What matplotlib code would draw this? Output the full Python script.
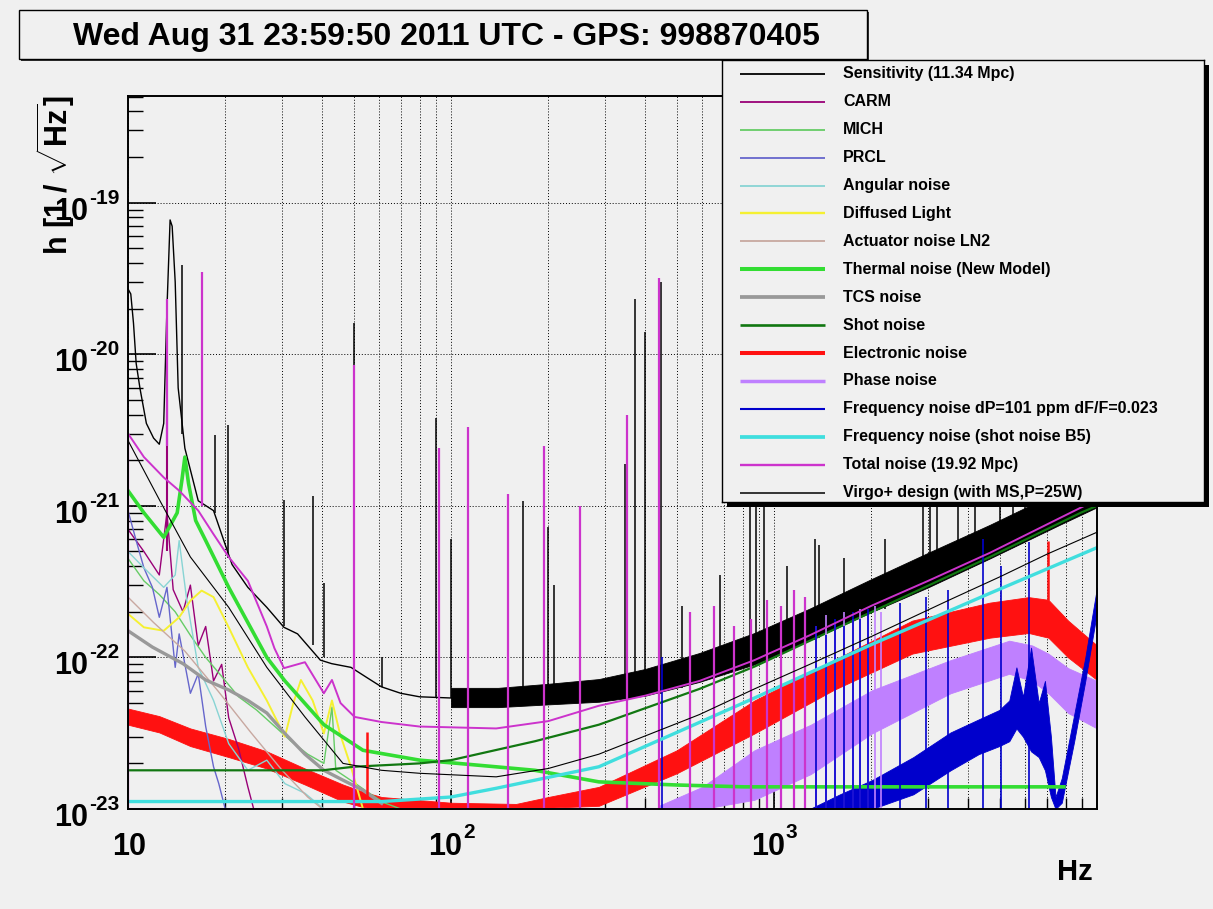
import numpy as np
import matplotlib
matplotlib.use("Agg")
import matplotlib.pyplot as plt
from matplotlib.patches import Rectangle
from matplotlib.ticker import FixedLocator, LogLocator, NullFormatter
from matplotlib.transforms import blended_transform_factory, offset_copy

plt.rcParams['font.family'] = ['Liberation Sans', 'DejaVu Sans']
plt.rcParams['font.weight'] = 'bold'
plt.rcParams['mathtext.fontset'] = 'custom'
plt.rcParams['mathtext.rm'] = 'Liberation Sans:bold'
plt.rcParams['mathtext.bf'] = 'Liberation Sans:bold'
plt.rcParams['mathtext.it'] = 'Liberation Sans:bold'

# ---- values: f in Hz, h in 1/sqrt(Hz) ----
# Sensitivity (black): low-frequency line, high-frequency noisy band, lines
sens_f = [10.0, 10.2, 10.4, 10.6, 10.9, 11.4, 12.0, 12.5, 12.9, 13.2, 13.5, 13.7, 14.0, 14.3, 15.0,
          16.5, 18.4, 21.0, 23.5, 26.9, 30.4, 33.5, 39.4, 42.7, 49.0, 54.7, 60.9, 69.9, 79.9, 100.0]
sens_h = [2.7e-20, 2.5e-20, 1.6e-20, 8.7e-21, 5.9e-21, 3.5e-21, 2.8e-21, 2.55e-21, 3.5e-21, 2.0e-20,
          7.7e-20, 7.0e-20, 3.0e-20, 6.0e-21, 2.4e-21, 1.08e-21, 9.3e-22, 4.1e-22, 2.9e-22, 2.14e-22,
          1.58e-22, 1.43e-22, 9.6e-23, 9.1e-23, 8.6e-23, 7.4e-23, 6.4e-23, 5.8e-23, 5.5e-23, 5.4e-23]
sens_band_f = [100.0, 140.0, 200.0, 287.0, 400.0, 588.0, 870.0, 1290.0, 2010.0, 3000.0, 4660.0, 7660.0, 10000.0]
sens_band_lo = [4.7e-23, 4.7e-23, 4.9e-23, 5.1e-23, 5.6e-23, 6.9e-23, 9.0e-23, 1.3e-22, 2.0e-22, 2.9e-22,
                4.5e-22, 7.5e-22, 9.8e-22]
sens_band_hi = [6.3e-23, 6.3e-23, 6.7e-23, 7.2e-23, 8.4e-23, 1.07e-22, 1.45e-22, 2.1e-22, 3.3e-22, 4.9e-22,
                7.5e-22, 1.25e-21, 1.6e-21]
sens_spk_f = [14.7, 16.9, 18.6, 20.4, 30.4, 37.3, 40.4, 50.0, 61.0, 90.0, 100.0, 167.0, 200.0, 208.0,
              345.0, 371.0, 399.0, 448.0, 520.0, 680.0, 840.0, 880.0, 930.0, 1100.0, 1340.0, 1380.0,
              1650.0, 2200.0, 2900.0, 3050.0, 3200.0, 3700.0, 4200.0, 5000.0, 5500.0, 6000.0, 7000.0,
              8000.0, 9000.0]
sens_spk_lo = [3.0e-21, 1.1e-21, 9.0e-22, 4.5e-22, 1.6e-22, 1.2e-22, 1.0e-22, 8.6e-23, 6.4e-23, 5.5e-23,
               5.4e-23, 5.0e-23, 5.0e-23, 5.0e-23, 5.3e-23, 5.4e-23, 5.5e-23, 5.7e-23, 6.3e-23, 7.5e-23,
               8.8e-23, 9.0e-23, 9.5e-23, 1.1e-22, 1.3e-22, 1.35e-22, 1.6e-22, 2.1e-22, 2.8e-22, 2.9e-22,
               3.1e-22, 3.6e-22, 4.1e-22, 4.8e-22, 5.3e-22, 5.8e-22, 6.8e-22, 7.8e-22, 8.8e-22]
sens_spk_hi = [3.9e-20, 1.7e-20, 2.95e-21, 3.4e-21, 1.1e-21, 1.17e-21, 3.1e-22, 1.6e-20, 1.0e-22, 3.8e-21,
               6.0e-22, 1.07e-21, 7.2e-22, 3.0e-22, 1.9e-21, 2.3e-20, 1.4e-20, 3.0e-20, 2.2e-22, 3.5e-22,
               1.4e-21, 1.2e-21, 1.5e-21, 4.0e-22, 6.0e-22, 5.5e-22, 4.5e-22, 6.0e-22, 1.5e-21, 1.5e-21,
               1.5e-21, 1.2e-21, 1.5e-21, 2.0e-21, 2.0e-21, 2.0e-21, 2.0e-21, 2.0e-21, 2.0e-21]

carm_f = [10.0, 11.2, 12.5, 13.2, 13.8, 14.8, 15.6, 16.5, 17.4, 18.4, 19.5, 20.5, 22.0, 23.5, 24.5]
carm_h = [7.0e-22, 5.0e-22, 3.5e-22, 9.0e-22, 2.8e-22, 2.0e-22, 3.0e-22, 1.2e-22, 1.6e-22, 7.0e-23,
          9.0e-23, 4.0e-23, 2.5e-23, 1.4e-23, 1.0e-23]
carm_spk_f = [13.2]
carm_spk_lo = [5.0e-22]
carm_spk_hi = [5.0e-21]

mich_f = [10.0, 11.2, 12.5, 14.0, 15.6, 17.4, 19.5, 22.0, 25.0, 28.5, 32.0, 36.0, 40.4, 42.8, 44.0,
          50.0, 55.0, 62.0, 70.0]
mich_h = [4.5e-22, 3.2e-22, 2.6e-22, 2.0e-22, 1.4e-22, 1.0e-22, 7.5e-23, 5.5e-23, 4.5e-23, 3.5e-23,
          2.8e-23, 2.3e-23, 2.0e-23, 4.7e-23, 1.8e-23, 1.5e-23, 1.3e-23, 1.1e-23, 1.0e-23]

prcl_f = [10.0, 10.6, 11.2, 11.9, 12.5, 13.2, 14.0, 14.4, 15.6, 16.5, 17.4, 18.4, 19.1, 20.0]
prcl_h = [9.3e-22, 5.9e-22, 3.9e-22, 2.9e-22, 1.84e-22, 2.9e-22, 8.6e-23, 1.43e-22, 5.8e-23, 7.8e-23,
          3.5e-23, 1.9e-23, 1.47e-23, 1.0e-23]

ang_f = [10.0, 11.2, 12.9, 14.0, 14.4, 15.2, 16.5, 18.4, 20.5, 23.5, 26.9, 30.6, 35.3, 40.4]
ang_h = [5.0e-22, 3.9e-22, 2.9e-22, 3.5e-22, 5.9e-22, 2.4e-22, 8.6e-23, 5.2e-23, 2.7e-23, 1.8e-23,
         2.1e-23, 1.47e-23, 1.27e-23, 1.0e-23]

diff_f = [10.0, 11.2, 12.9, 14.4, 15.6, 16.9, 18.4, 20.5, 23.5, 26.9, 30.6, 32.5, 34.3, 37.3, 40.4,
          42.8, 45.3, 49.0, 53.4]
diff_h = [1.94e-22, 1.58e-22, 1.5e-22, 1.84e-22, 2.37e-22, 2.76e-22, 2.5e-22, 1.58e-22, 8.6e-23, 5.2e-23,
          3.0e-23, 5.0e-23, 7.1e-23, 5.2e-23, 3.15e-23, 5.2e-23, 3.15e-23, 1.9e-23, 1.0e-23]

act_f = [10.0, 12.0, 15.0, 19.0, 24.0, 30.0, 36.0, 40.0]
act_h = [2.5e-22, 1.7e-22, 1.1e-22, 6.0e-23, 3.2e-23, 1.8e-23, 1.2e-23, 1.0e-23]

therm_f = [10.0, 11.2, 12.9, 14.2, 14.7, 15.0, 15.4, 16.2, 17.4, 20.5, 26.9, 30.6, 40.4, 53.4, 80.0,
           105.0, 182.0, 287.0, 500.0, 810.0, 7900.0]
therm_h = [1.26e-21, 9.0e-22, 6.2e-22, 9.0e-22, 1.5e-21, 2.1e-21, 1.4e-21, 8.0e-22, 5.9e-22, 2.9e-22,
           1.0e-22, 7.0e-23, 3.6e-23, 2.44e-23, 2.1e-23, 2.0e-23, 1.8e-23, 1.51e-23, 1.44e-23, 1.4e-23,
           1.4e-23]

tcs_f = [10.0, 11.9, 14.8, 17.4, 20.5, 23.5, 26.9, 30.6, 35.3, 40.4, 46.3, 53.4, 61.0]
tcs_h = [1.5e-22, 1.17e-22, 9.1e-23, 7.1e-23, 6.1e-23, 5.2e-23, 4.3e-23, 3.15e-23, 2.3e-23, 1.8e-23,
         1.55e-23, 1.33e-23, 1.09e-23]

shot_f = [10.0, 40.0, 50.0, 80.0, 100.0, 182.0, 287.0, 588.0, 870.0, 2010.0, 4660.0, 8900.0, 10000.0]
shot_h = [1.8e-23, 1.8e-23, 1.9e-23, 2.0e-23, 2.1e-23, 2.8e-23, 3.6e-23, 6.2e-23, 8.7e-23, 2.0e-22,
          4.6e-22, 9.0e-22, 1.0e-21]

elec_f = [10.0, 12.5, 15.6, 20.5, 26.9, 35.3, 46.3, 53.4, 61.0, 100.0, 159.0, 200.0, 287.0, 500.0,
          870.0, 1530.0, 2680.0, 4660.0, 6140.0, 7070.0, 8140.0, 10000.0]
elec_lo = [3.6e-23, 3.2e-23, 2.6e-23, 2.2e-23, 1.85e-23, 1.45e-23, 1.12e-23, 1.03e-23, 1.0e-23, 1.0e-23,
           1.0e-23, 1.02e-23, 1.05e-23, 1.72e-23, 3.15e-23, 6.1e-23, 1.06e-22, 1.35e-22, 1.45e-22,
           1.35e-22, 1.0e-22, 7.1e-23]
elec_hi = [4.6e-23, 4.1e-23, 3.4e-23, 2.9e-23, 2.4e-23, 1.85e-23, 1.45e-23, 1.3e-23, 1.2e-23, 1.1e-23,
           1.08e-23, 1.2e-23, 1.4e-23, 2.44e-23, 5.2e-23, 9.6e-23, 1.75e-22, 2.3e-22, 2.5e-22, 2.4e-22,
           1.75e-22, 1.2e-22]
elec_spk_f = [55.0, 7070.0]
elec_spk_lo = [1.2e-23, 2.4e-22]
elec_spk_hi = [3.2e-23, 5.9e-22]

phase_f = [440.0, 600.0, 870.0, 1300.0, 2010.0, 3520.0, 5350.0, 6300.0, 7070.0, 8140.0, 10000.0]
phase_lo = [1.0e-23, 1.0e-23, 1.15e-23, 1.7e-23, 3.15e-23, 5.8e-23, 7.8e-23, 7.0e-23, 5.8e-23, 4.3e-23, 3.4e-23]
phase_hi = [1.05e-23, 1.4e-23, 2.44e-23, 3.6e-23, 6.07e-23, 9.6e-23, 1.29e-22, 1.2e-22, 1.06e-22, 8.5e-23, 7.0e-23]
phase_floor_f = [10.0, 440.0]
phase_floor_h = [1.0e-23, 1.0e-23]
phase_spk_f = [1150.0, 1250.0, 1350.0, 1450.0, 1550.0, 1650.0, 1750.0, 1850.0, 1950.0, 2050.0, 2150.0]
phase_spk_hi = [1.3e-22, 1.5e-22, 1.6e-22, 1.9e-22, 1.7e-22, 2.0e-22, 1.8e-22, 2.1e-22, 1.9e-22, 2.2e-22, 2.0e-22]

freq_f = [1290.0, 1600.0, 2010.0, 2700.0, 3520.0, 4300.0, 4980.0, 5350.0, 5630.0, 5900.0, 6250.0,
          6600.0, 6900.0, 7200.0, 7440.0, 7780.0, 8500.0, 9200.0, 10000.0]
freq_lo = [1.0e-23, 1.0e-23, 1.0e-23, 1.25e-23, 1.8e-23, 2.3e-23, 2.6e-23, 2.8e-23, 3.4e-23, 3.0e-23,
           2.4e-23, 2.2e-23, 1.8e-23, 1.2e-23, 1.0e-23, 1.1e-23, 2.8e-23, 7.0e-23, 2.0e-22]
freq_hi = [1.0e-23, 1.25e-23, 1.55e-23, 2.2e-23, 3.2e-23, 3.9e-23, 4.5e-23, 5.2e-23, 8.6e-23, 5.5e-23,
           1.16e-22, 5.0e-23, 7.0e-23, 3.0e-23, 1.2e-23, 1.6e-23, 4.2e-23, 1.0e-22, 2.9e-22]
freq_spk_f = [50.0, 150.0, 250.0, 350.0, 450.0, 550.0, 650.0, 750.0, 850.0, 950.0, 1050.0, 1150.0,
              1250.0, 1350.0, 1450.0, 1550.0, 1650.0, 1750.0, 1850.0, 1950.0, 2450.0, 2950.0, 3450.0,
              4450.0, 5050.0, 6150.0]
freq_spk_hi = [4.4e-23, 4.6e-23, 4.9e-23, 5.5e-23, 1.0e-22, 6.5e-23, 7.5e-23, 6.5e-23, 9.0e-23, 1.1e-22,
               1.3e-22, 1.2e-22, 1.5e-22, 1.6e-22, 1.4e-22, 1.8e-22, 1.6e-22, 2.0e-22, 1.8e-22, 2.1e-22,
               2.3e-22, 2.5e-22, 2.8e-22, 6.0e-22, 4.0e-22, 5.8e-22]

fshot_f = [10.0, 61.0, 100.0, 138.0, 182.0, 287.0, 500.0, 870.0, 2010.0, 4660.0, 10000.0]
fshot_h = [1.12e-23, 1.12e-23, 1.2e-23, 1.37e-23, 1.55e-23, 1.9e-23, 3.2e-23, 5.4e-23, 1.22e-22, 2.65e-22, 5.3e-22]

total_f = [10.0, 11.2, 12.9, 14.4, 16.5, 18.4, 20.5, 23.5, 26.9, 28.4, 30.4, 35.3, 40.4, 42.8, 45.5,
           50.3, 60.9, 79.9, 138.0, 200.0, 287.0, 400.0, 588.0, 870.0, 1290.0, 2010.0, 3000.0, 4660.0,
           7660.0, 10000.0]
total_h = [3.0e-21, 2.1e-21, 1.54e-21, 1.26e-21, 9.3e-22, 6.5e-22, 4.6e-22, 3.2e-22, 1.6e-22, 1.15e-22,
           8.5e-23, 9.3e-23, 5.8e-23, 7.1e-23, 5.0e-23, 4.05e-23, 3.75e-23, 3.5e-23, 3.4e-23, 3.8e-23,
           4.8e-23, 5.6e-23, 7.0e-23, 9.6e-23, 1.4e-22, 2.2e-22, 3.2e-22, 4.9e-22, 8.3e-22, 1.1e-21]
total_spk_f = [10.0, 13.2, 16.9, 50.0, 91.6, 113.0, 150.0, 194.0, 250.0, 350.0, 441.0, 550.0, 650.0,
               750.0, 850.0, 950.0, 1050.0, 1150.0, 1250.0]
total_spk_lo = [1.0e-23, 2.5e-21, 1.0e-21, 1.0e-23, 1.0e-23, 1.0e-23, 1.0e-23, 1.0e-23, 1.0e-23, 1.0e-23,
                1.0e-23, 1.0e-23, 1.0e-23, 1.0e-23, 1.0e-23, 1.0e-23, 1.0e-23, 1.0e-23, 1.0e-23]
total_spk_hi = [3.0e-21, 2.3e-20, 3.5e-20, 8.5e-21, 2.4e-21, 3.3e-21, 1.2e-21, 2.5e-21, 1.0e-21, 4.0e-21,
                3.2e-20, 2.0e-22, 2.2e-22, 1.6e-22, 1.8e-22, 2.4e-22, 2.2e-22, 2.8e-22, 2.5e-22]

design_f = [10.0, 12.5, 15.6, 20.5, 26.9, 35.3, 46.3, 61.0, 80.0, 138.0, 200.0, 287.0, 588.0, 870.0,
            1290.0, 2010.0, 3500.0, 5000.0, 7000.0, 10000.0]
design_h = [2.7e-21, 1.1e-21, 4.6e-22, 2.14e-22, 8.6e-23, 4.05e-23, 2.0e-23, 1.8e-23, 1.72e-23, 1.63e-23,
            1.85e-23, 2.3e-23, 4.2e-23, 6.2e-23, 9.0e-23, 1.38e-22, 2.4e-22, 3.4e-22, 4.8e-22, 6.7e-22]

labels = ["Sensitivity (11.34 Mpc)", "CARM", "MICH", "PRCL", "Angular noise", "Diffused Light",
          "Actuator noise LN2", "Thermal noise (New Model)", "TCS noise", "Shot noise", "Electronic noise",
          "Phase noise", "Frequency noise dP=101 ppm dF/F=0.023", "Frequency noise (shot noise B5)",
          "Total noise (19.92 Mpc)", "Virgo+ design (with MS,P=25W)"]
colors = ['black', '#990077', '#66cc66', '#6666cc', '#88d4d4', '#f5f032', '#c8a8a0', '#33dd33',
          '#999999', '#117711', '#ff1111', '#bf80ff', '#0000cc', '#40dede', '#cc33cc', 'black']
widths = [1.0, 1.0, 1.0, 1.0, 1.0, 1.4, 1.0, 2.6, 2.4, 1.6, 2.6, 2.2, 1.2, 2.4, 1.4, 0.8]

x_decades = [1, 2, 3]
y_decades = [-23, -22, -21, -20, -19]
title = "Wed Aug 31 23:59:50 2011 UTC - GPS: 998870405"

# ---- figure ----
W, H = 1213, 909
BG = '#f0f0f0'
fig = plt.figure(figsize=(W / 100, H / 100), dpi=100, facecolor=BG)
ax = fig.add_axes([128 / W, 1 - 809 / H, 969 / W, 713 / H], zorder=0)
ax.set_facecolor(BG)
ax.set_xscale('log')
ax.set_yscale('log')
ax.set_xlim(10, 1e4)
ax.set_ylim(1e-23, 5.06e-19)


def line(f, h, i, lw=None):
    ax.plot(f, h, color=colors[i], lw=widths[i] if lw is None else lw)


def band(f, lo, hi, i):
    ax.fill_between(f, lo, hi, facecolor=colors[i], edgecolor=colors[i], lw=0.6)


def spikes(f, lo, hi, i, lw):
    ax.vlines(f, lo, hi, colors=colors[i], lw=lw)


line(sens_f, sens_h, 0)
band(sens_band_f, sens_band_lo, sens_band_hi, 0)
spikes(sens_spk_f, sens_spk_lo, sens_spk_hi, 0, 1.1)
line(carm_f, carm_h, 1)
spikes(carm_spk_f, carm_spk_lo, carm_spk_hi, 1, 1.5)
line(mich_f, mich_h, 2)
line(prcl_f, prcl_h, 3)
line(ang_f, ang_h, 4)
line(diff_f, diff_h, 5)
line(act_f, act_h, 6)
line(therm_f, therm_h, 7)
line(tcs_f, tcs_h, 8)
line(shot_f, shot_h, 9)
band(elec_f, elec_lo, elec_hi, 10)
spikes(elec_spk_f, elec_spk_lo, elec_spk_hi, 10, 1.8)
band(phase_f, phase_lo, phase_hi, 11)
line(phase_floor_f, phase_floor_h, 11)
spikes(phase_spk_f, [1e-23] * len(phase_spk_f), phase_spk_hi, 11, 1.2)
band(freq_f, freq_lo, freq_hi, 12)
spikes(freq_spk_f, [1e-23] * len(freq_spk_f), freq_spk_hi, 12, 1.2)
line(fshot_f, fshot_h, 13)
line(total_f, total_h, 14)
spikes(total_spk_f, total_spk_lo, total_spk_hi, 14, 1.6)
line(design_f, design_h, 15)

# axes styling (ROOT look)
ax.xaxis.set_major_locator(FixedLocator([10, 100, 1000, 10000]))
ax.xaxis.set_minor_locator(LogLocator(base=10, subs=np.arange(2, 10), numticks=20))
ax.xaxis.set_major_formatter(NullFormatter())
ax.xaxis.set_minor_formatter(NullFormatter())
ax.yaxis.set_major_locator(FixedLocator([10.0 ** d for d in y_decades]))
ax.yaxis.set_minor_locator(LogLocator(base=10, subs=np.arange(2, 10), numticks=40))
ax.yaxis.set_major_formatter(NullFormatter())
ax.yaxis.set_minor_formatter(NullFormatter())
ax.tick_params(axis='y', which='major', direction='in', length=20, width=1.2, right=False)
ax.tick_params(axis='y', which='minor', direction='in', length=11, width=1.0, right=False)
ax.tick_params(axis='x', which='major', direction='in', length=14, width=1.2, top=False)
ax.tick_params(axis='x', which='minor', direction='in', length=8, width=1.0, top=False)
ax.grid(True, which='both', axis='x', ls=(0, (1, 2)), color='black', lw=0.7)
ax.grid(True, which='major', axis='y', ls=(0, (1, 2)), color='black', lw=0.7)
ax.set_axisbelow(True)
for sp in ax.spines.values():
    sp.set_linewidth(1.4)
    sp.set_color('black')

# tick labels drawn ROOT-style: big "10" with a small raised exponent
ty = blended_transform_factory(fig.transFigure, ax.transData)
for d in y_decades:
    fig.text(88 / W, 10.0 ** d, '10', transform=offset_copy(ty, fig=fig, y=-17, units='dots'),
             ha='right', va='baseline', fontsize=22, weight='bold')
    fig.text(89 / W, 10.0 ** d, '-%d' % (-d), transform=offset_copy(ty, fig=fig, y=-1, units='dots'),
             ha='left', va='baseline', fontsize=15, weight='bold')

tx = blended_transform_factory(ax.transData, fig.transFigure)
for d in x_decades:
    if d == 1:
        fig.text(10.0 ** d, 1 - 855 / H, '10', transform=offset_copy(tx, fig=fig, x=1, units='dots'),
                 ha='center', va='baseline', fontsize=22, weight='bold')
    else:
        fig.text(10.0 ** d, 1 - 855 / H, '10', transform=offset_copy(tx, fig=fig, x=11, units='dots'),
                 ha='right', va='baseline', fontsize=22, weight='bold')
        fig.text(10.0 ** d, 1 - 838 / H, '%d' % d, transform=offset_copy(tx, fig=fig, x=12, units='dots'),
                 ha='left', va='baseline', fontsize=15, weight='bold')

fig.text(1093 / W, 1 - 880 / H, 'Hz', ha='right', va='baseline', fontsize=21, weight='bold')
fig.text(56 / W, 1 - 175 / H, r'h [1 / $\sqrt{\mathbf{Hz}}$]', rotation=90, ha='center', va='center',
         fontsize=22, weight='bold', zorder=3)

# title box with shadow
fig.add_artist(Rectangle((21 / W, 1 - 61 / H), 848 / W, 49 / H, transform=fig.transFigure,
                         facecolor='#333333', edgecolor='none', zorder=1))
fig.add_artist(Rectangle((19 / W, 1 - 59 / H), 848 / W, 49 / H, transform=fig.transFigure,
                         facecolor=BG, edgecolor='black', lw=1.0, zorder=1.5))
fig.text(446 / W, 1 - 45 / H, title, ha='center', va='baseline', fontsize=23, weight='bold', zorder=3)

# legend box with shadow
fig.add_artist(Rectangle((727 / W, 1 - 507 / H), 482 / W, 442 / H, transform=fig.transFigure,
                         facecolor='black', edgecolor='none', zorder=1))
lax = fig.add_axes([722 / W, 1 - 502 / H, 482 / W, 442 / H], zorder=2)
lax.set_facecolor(BG)
lax.set_xlim(722, 1204)
lax.set_ylim(502, 60)
lax.set_xticks([])
lax.set_yticks([])
for sp in lax.spines.values():
    sp.set_linewidth(1.0)
for i, lab in enumerate(labels):
    yy = 74 + 27.9 * i
    lax.plot([740, 825], [yy, yy], color=colors[i], lw=widths[i] + 0.3, solid_capstyle='butt')
    lax.text(843, yy, lab, ha='left', va='center', fontsize=11.5, weight='bold')

fig.savefig('out.png', dpi=100, facecolor=BG)
